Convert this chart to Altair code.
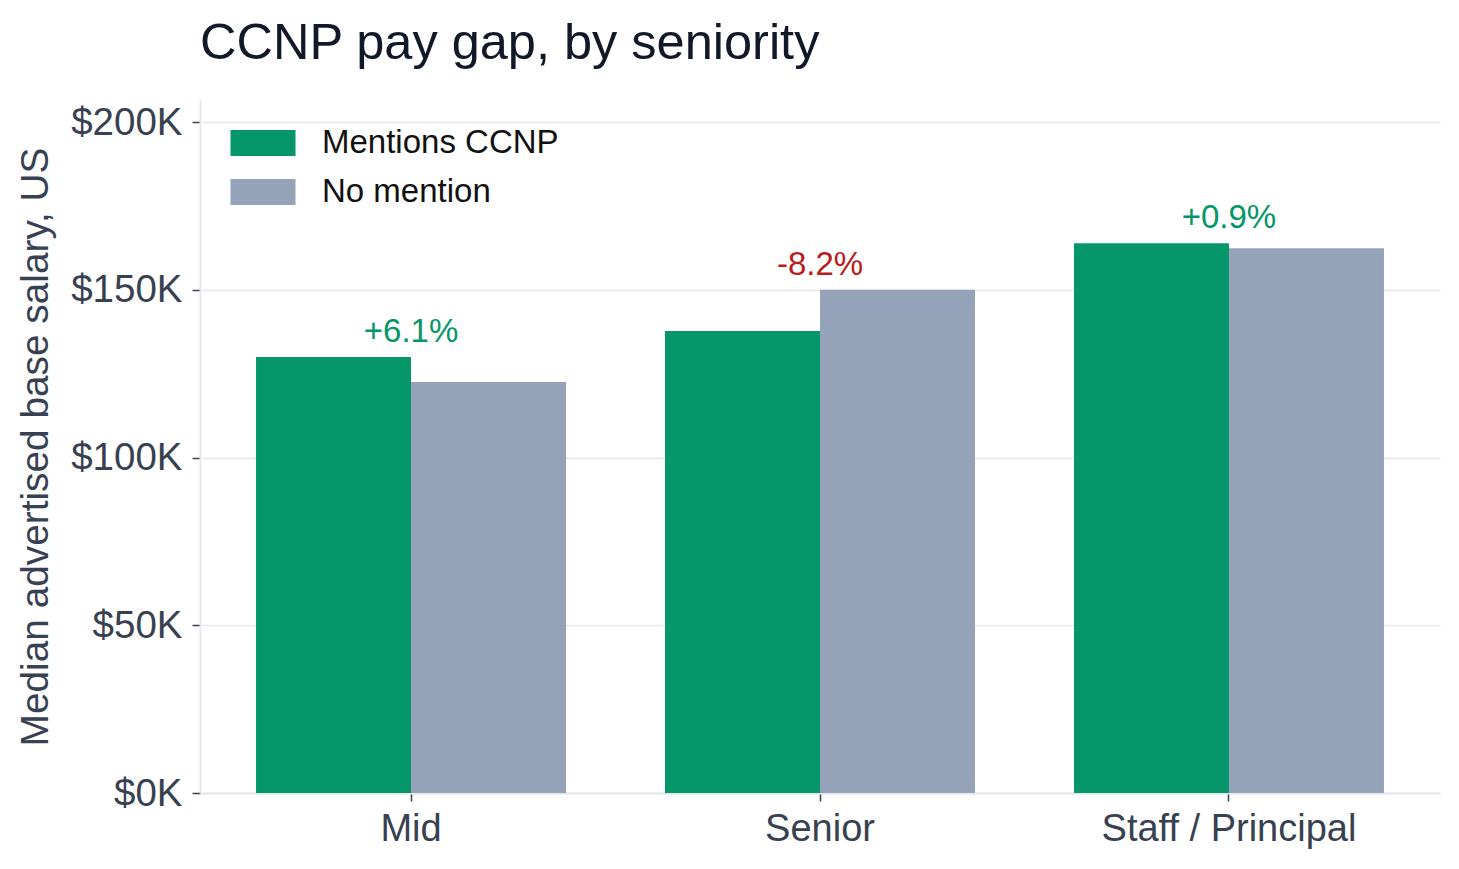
import altair as alt
import pandas as pd

seniority = ["Mid", "Senior", "Staff / Principal"]
series = ["Mentions CCNP", "No mention"]
ccnp_salary = [130000, 137700, 163900]
nomention_salary = [122500, 150000, 162400]
gap_labels = ["+6.1%", "-8.2%", "+0.9%"]
y_ticks = [0, 50000, 100000, 150000, 200000]

GREEN = "#059669"
GRAY = "#94a3b8"
RED = "#b91c1c"
FONT = "Liberation Sans"
AXIS_TXT = "#374151"
GRID = "#e5e7eb"

rows = []
for s, a, b in zip(seniority, ccnp_salary, nomention_salary):
    rows.append({"seniority": s, "group": series[0], "salary": a})
    rows.append({"seniority": s, "group": series[1], "salary": b})
bars_df = pd.DataFrame(rows)

ann_df = pd.DataFrame({
    "seniority": seniority,
    "label": gap_labels,
    "top": [max(a, b) for a, b in zip(ccnp_salary, nomention_salary)],
    "sign": ["pos" if l.startswith("+") else "neg" for l in gap_labels],
})

x_enc = alt.X(
    "seniority:N", sort=seniority, title=None,
    scale=alt.Scale(paddingInner=0.242, paddingOuter=0.137),
    axis=alt.Axis(labelAngle=0, labelFontSize=38, labelColor=AXIS_TXT, labelFont=FONT,
                  labelLimit=0, tickColor=AXIS_TXT, tickSize=8, tickWidth=1.5,
                  domainColor=GRID, domainWidth=2, labelPadding=9, grid=False),
)
y_enc = alt.Y(
    "salary:Q", title="Median advertised base salary, US",
    scale=alt.Scale(domain=[0, 206600], nice=False),
    axis=alt.Axis(values=y_ticks, labelExpr="'$' + format(datum.value / 1000, 'd') + 'K'",
                  labelFontSize=38.5, labelColor=AXIS_TXT, labelFont=FONT,
                  tickColor=AXIS_TXT, tickSize=8, tickWidth=1.5, labelPadding=10,
                  domainColor=GRID, domainWidth=2,
                  grid=True, gridColor=GRID, gridWidth=1.5,
                  titleFontSize=38.8, titleFont=FONT, titleColor=AXIS_TXT,
                  titleFontWeight="normal", titlePadding=15),
)

bars = alt.Chart(bars_df).mark_bar().encode(
    x=x_enc,
    xOffset=alt.XOffset("group:N", sort=series, scale=alt.Scale(paddingInner=0, paddingOuter=0)),
    y=y_enc,
    color=alt.Color(
        "group:N", sort=series,
        scale=alt.Scale(domain=series, range=[GREEN, GRAY]),
        legend=alt.Legend(title=None, orient="none", legendX=46.5, legendY=26.5,
                          symbolType="M-2.5,-1H2.5V1H-2.5Z", symbolSize=676,
                          symbolStrokeWidth=0, symbolOpacity=1,
                          labelFontSize=33, labelFont=FONT, labelColor="#111111",
                          labelLimit=0, labelOffset=42.5, rowPadding=15),
    ),
)

text = alt.Chart(ann_df).mark_text(baseline="bottom", dy=-8, fontSize=33, font=FONT).encode(
    x=alt.X("seniority:N", sort=seniority),
    y=alt.Y("top:Q"),
    text="label:N",
    color=alt.condition("datum.sign == 'pos'", alt.value(GREEN), alt.value(RED)),
)

chart = (
    alt.layer(bars, text)
    .properties(
        width=1240, height=693,
        title=alt.TitleParams("CCNP pay gap, by seniority", anchor="start", frame="group",
                              fontSize=50.5, font=FONT, color="#111827", fontWeight="normal",
                              offset=31),
        autosize=alt.AutoSizeParams(type="none"),
        padding={"left": 192, "top": 92, "right": 11, "bottom": 68},
    )
    .configure_view(stroke=None)
)

chart.save("out.html", embed_options={"renderer": "svg", "actions": False})
